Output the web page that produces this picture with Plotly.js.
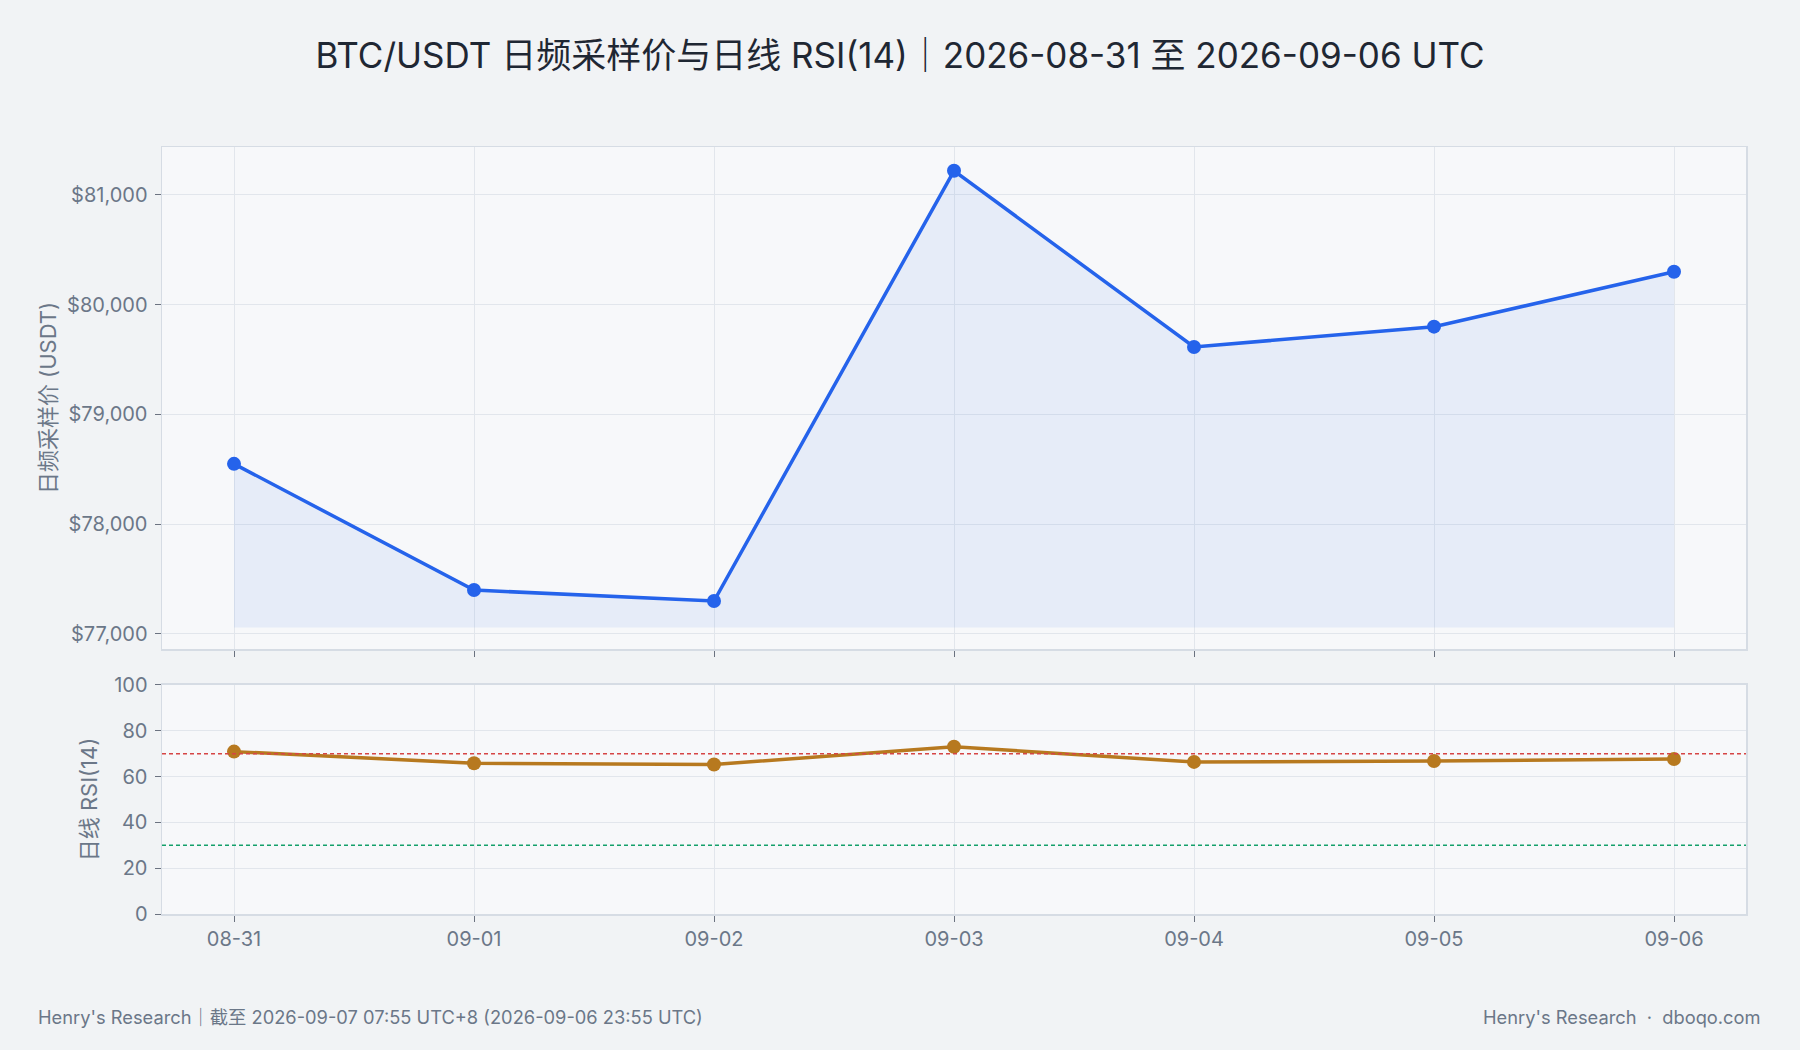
<!DOCTYPE html>
<html><head><meta charset="utf-8">
<script src="https://cdn.plot.ly/plotly-3.0.1.min.js"></script>
<style>html,body{margin:0;padding:0;background:#f1f3f5;}#chart{width:1800px;height:1050px;}</style>
</head><body><div id="chart"></div>
<script>
const dates = ['08-31','09-01','09-02','09-03','09-04','09-05','09-06'];
const price = [78550, 77400, 77300, 81220, 79615, 79800, 80300];
const rsi = [70.9, 65.8, 65.3, 73.0, 66.4, 66.8, 67.7];
const priceBase = [77060, 77060, 77060, 77060, 77060, 77060, 77060];
const rsiOverbought = 70;
const rsiOversold = 30;
const priceTicks = [77000, 78000, 79000, 80000, 81000];
const priceTickText = ['$77,000', '$78,000', '$79,000', '$80,000', '$81,000'];

const FONT = 'Inter, "Noto Sans CJK SC", sans-serif';
const TXT = '#6b7788';
const GRID = '#e2e6ec';
const LINE = '#d6dce4';

const traces = [
  {x: dates, y: priceBase, type: 'scatter', mode: 'lines', line: {width: 0, color: 'rgba(0,0,0,0)'}, hoverinfo: 'skip', showlegend: false, xaxis: 'x', yaxis: 'y'},
  {x: dates, y: price, type: 'scatter', mode: 'lines+markers', fill: 'tonexty', fillcolor: 'rgba(37,99,235,0.08)',
   line: {color: '#2563eb', width: 3.5}, marker: {color: '#2563eb', size: 14}, showlegend: false, xaxis: 'x', yaxis: 'y'},
  {x: dates, y: rsi, type: 'scatter', mode: 'lines+markers',
   line: {color: '#b7791f', width: 3.5}, marker: {color: '#b7791f', size: 14}, showlegend: false, xaxis: 'x2', yaxis: 'y2'}
];

const layout = {
  width: 1800, height: 1050,
  paper_bgcolor: '#f1f3f5', plot_bgcolor: '#f7f8fa',
  font: {family: FONT, color: TXT, size: 18},
  margin: {l: 162, r: 54, t: 147, b: 136},
  title: {text: 'BTC/USDT 日频采样价与日线 RSI(14)｜2026-08-31 至 2026-09-06 UTC', x: 0.5, xanchor: 'center', y: 0.947, yanchor: 'middle',
          font: {family: FONT, size: 35, color: '#1f2733'}},
  showlegend: false,
  xaxis: {domain: [0, 1], anchor: 'y', type: 'category', range: [-0.3, 6.3], showticklabels: false,
          showgrid: true, gridcolor: GRID, ticks: 'outside', ticklen: 6, tickcolor: '#6b7280',
          showline: true, mirror: true, linecolor: LINE, linewidth: 1.5, zeroline: false},
  yaxis: {domain: [0.3455, 1], anchor: 'x', range: [76863, 81437], tickvals: priceTicks, ticktext: priceTickText,
          showgrid: true, gridcolor: GRID, ticks: 'outside', ticklen: 6, tickcolor: '#6b7280', ticklabelstandoff: 3,
          showline: true, mirror: true, linecolor: LINE, linewidth: 1.5, zeroline: false,
          title: {text: '日频采样价 (USDT)', font: {size: 22, color: TXT}, standoff: 4}, tickfont: {size: 20, color: TXT}},
  xaxis2: {domain: [0, 1], anchor: 'y2', type: 'category', range: [-0.3, 6.3], matches: 'x',
          showgrid: true, gridcolor: GRID, ticks: 'outside', ticklen: 6, tickcolor: '#6b7280',
          showline: true, mirror: true, linecolor: LINE, linewidth: 1.5, zeroline: false, tickfont: {size: 20, color: TXT}},
  yaxis2: {domain: [0, 0.2986], anchor: 'x2', range: [0, 100], dtick: 20,
          showgrid: true, gridcolor: GRID, ticks: 'outside', ticklen: 6, tickcolor: '#6b7280', ticklabelstandoff: 3,
          showline: true, mirror: true, linecolor: LINE, linewidth: 1.5, zeroline: false,
          title: {text: '日线 RSI(14)', font: {size: 22, color: TXT}, standoff: 10}, tickfont: {size: 20, color: TXT}},
  shapes: [
    {type: 'line', xref: 'x2 domain', yref: 'y2', x0: 0, x1: 1, y0: rsiOverbought, y1: rsiOverbought, line: {color: '#d64545', width: 1.5, dash: '4px,3px'}},
    {type: 'line', xref: 'x2 domain', yref: 'y2', x0: 0, x1: 1, y0: rsiOversold, y1: rsiOversold, line: {color: '#14a06a', width: 1.5, dash: '4px,3px'}}
  ],
  annotations: [
    {text: "Henry's Research｜截至 2026-09-07 07:55 UTC+8 (2026-09-06 23:55 UTC)", xref: 'paper', yref: 'paper', x: -0.0795, y: -0.1343,
     xanchor: 'left', yanchor: 'middle', showarrow: false, font: {size: 18.3, color: TXT}},
    {text: "Henry's Research  ·  dboqo.com", xref: 'paper', yref: 'paper', x: 1.0107, y: -0.1343,
     xanchor: 'right', yanchor: 'middle', showarrow: false, font: {size: 18.3, color: TXT}}
  ]
};

Plotly.newPlot('chart', traces, layout, {displayModeBar: false, staticPlot: true});
</script></body></html>
